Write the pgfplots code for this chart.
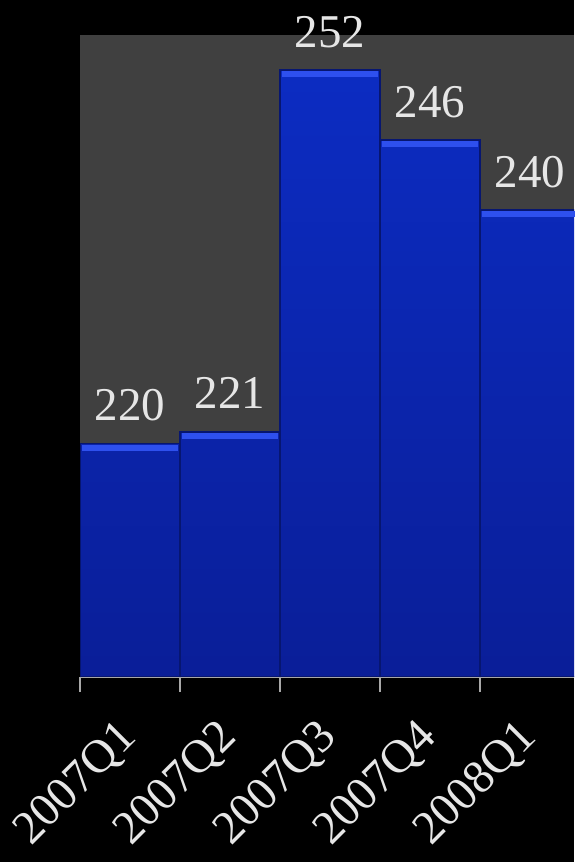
\documentclass[border=0pt]{standalone}
\usepackage{fontspec}
\setmainfont{Liberation Serif}
\usepackage{pgfplots}
\pgfplotsset{compat=1.18}
\definecolor{plotbg}{HTML}{404040}
\definecolor{barTop}{HTML}{0C2CC2}
\definecolor{barBot}{HTML}{0A1E98}
\definecolor{barEdge}{HTML}{071670}
\definecolor{barHi}{HTML}{2E50EE}
\definecolor{lbl}{HTML}{E6E6E6}
\definecolor{axgray}{HTML}{A8A8A8}
\begin{document}
\begin{tikzpicture}
\fill[black] (0,0) rectangle (287pt,431pt);
\useasboundingbox (0,0) rectangle (287pt,431pt);
\begin{axis}[
  /pgf/number format/assume math mode=true,
  at={(40pt,92.5pt)}, anchor=south west,
  scale only axis, width=247pt, height=321pt,
  xmin=-0.5, xmax=4.44, ymin=200, ymax=255,
  axis background/.style={fill=plotbg},
  axis x line*=bottom, axis y line=none,
  x axis line style={axgray, line width=1pt},
  xtick={0,1,2,3,4},
  xticklabels={2007Q1,2007Q2,2007Q3,2007Q4,2008Q1},
  major tick length=0pt,
  tick align=outside,
  every tick/.style={axgray, line width=0.8pt},
  extra x ticks={-0.5,0.5,1.5,2.5,3.5},
  extra x tick labels={},
  extra x tick style={major tick length=7.5pt, tick align=outside},
  xticklabel style={font=\fontsize{23.5}{27}\selectfont, text=lbl, yshift=-24.5pt, xshift=2.5pt, rotate=45, anchor=east},
  ytick=\empty,
]
\addplot[ybar, bar width=1, draw=barEdge, line width=0.8pt,
  top color=barTop, bottom color=barBot,
  nodes near coords,
  nodes near coords style={font=\fontsize{23.5}{26}\selectfont, text=lbl, anchor=base, yshift=11.5pt}]
  coordinates {(0,220) (1,221) (2,252) (3,246) (4,240)};
\addplot[only marks, mark=-, mark size=24pt,
  mark options={draw=barHi, line width=3pt, yshift=-2pt}]
  coordinates {(0,220) (1,221) (2,252) (3,246) (4,240)};
\end{axis}
\end{tikzpicture}
\end{document}
